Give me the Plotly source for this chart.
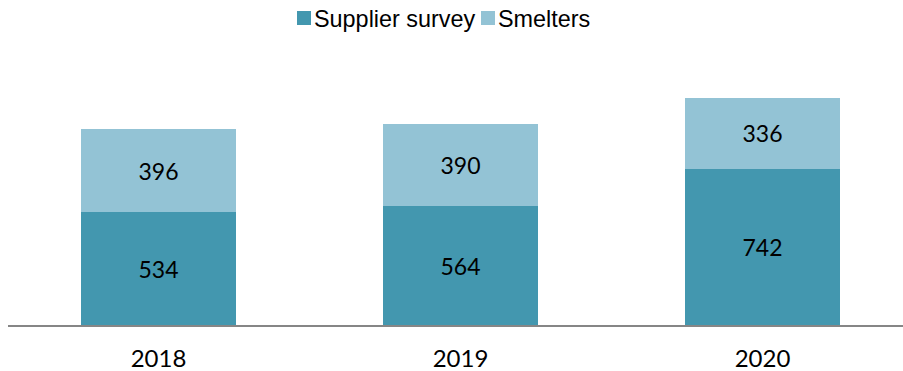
import plotly.graph_objects as go

# Data
years = ["2018", "2019", "2020"]
supplier_survey = [534, 564, 742]
smelters = [396, 390, 336]
series_names = ["Supplier survey", "Smelters"]
series_colors = ["#4397AF", "#93C3D5"]

W, H = 903, 371
m_l, m_r, m_t, m_b = 8, 0, 60, 46
plot_w = W - m_l - m_r
plot_h = H - m_t - m_b

label_font = dict(family="Lato, 'Open Sans', sans-serif", size=23, color="#000000")
tick_font = dict(family="Lato, 'Open Sans', sans-serif", size=24, color="#000000")

fig = go.Figure()
for name, vals, col in zip(series_names, [supplier_survey, smelters], series_colors):
    fig.add_trace(go.Bar(
        x=years, y=vals, name=name,
        marker=dict(color=col, line=dict(width=0)),
        width=0.513,
        text=[str(v) for v in vals],
        textposition="inside",
        insidetextanchor="middle",
        textangle=0,
        textfont=label_font,
        showlegend=False,
    ))

# Legend drawn as swatch + caption at the top of the figure
def px_x(p):
    return (p - m_l) / plot_w

def px_y(p):
    return (H - m_b - p) / plot_h

legend_items = [(297, 311), (481, 495)]
shapes, annotations = [], []
for (x0, x1), name, col in zip(legend_items, series_names, series_colors):
    shapes.append(dict(type="rect", xref="paper", yref="paper",
                       x0=px_x(x0), x1=px_x(x1), y0=px_y(25), y1=px_y(11),
                       fillcolor=col, line=dict(width=0)))
    annotations.append(dict(text=name, xref="paper", yref="paper",
                            x=px_x(x1 + 1), y=px_y(19), xanchor="left", yanchor="middle",
                            showarrow=False,
                            font=dict(family="Liberation Sans, Arial, sans-serif", size=23.4, color="#000000")))

fig.update_layout(
    barmode="stack",
    width=W, height=H,
    margin=dict(l=m_l, r=m_r, t=m_t, b=m_b),
    paper_bgcolor="white", plot_bgcolor="white",
    shapes=shapes, annotations=annotations,
    xaxis=dict(range=[-0.4983, 2.4653], showline=True, linecolor="#868686", linewidth=2,
               ticks="", showgrid=False, zeroline=False,
               tickfont=tick_font, ticklabelstandoff=11),
    yaxis=dict(range=[0, 1257], visible=False, showgrid=False, zeroline=False),
)

fig.write_html("out.html")
